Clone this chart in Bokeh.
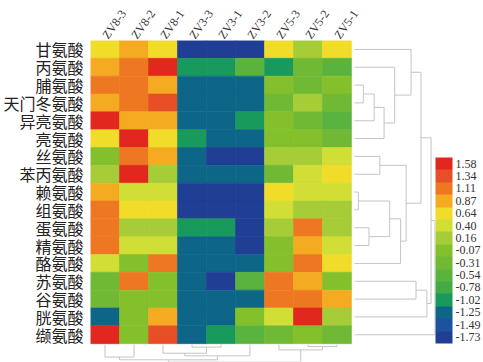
import math
from bokeh.plotting import figure
from bokeh.models import (ColumnDataSource, LinearAxis, FixedTicker, LinearColorMapper,
                          ColorBar, PrintfTickFormatter, Range1d, AllLabels)
from bokeh.transform import transform
from bokeh.embed import file_html
from bokeh.resources import INLINE

samples = ["ZV8-3", "ZV8-2", "ZV8-1", "ZV3-3", "ZV3-1", "ZV3-2", "ZV5-3", "ZV5-2", "ZV5-1"]
amino = ["甘氨酸", "丙氨酸", "脯氨酸", "天门冬氨酸", "异亮氨酸", "亮氨酸", "丝氨酸", "苯丙氨酸",
         "赖氨酸", "组氨酸", "蛋氨酸", "精氨酸", "酪氨酸", "苏氨酸", "谷氨酸", "胱氨酸", "缬氨酸"]

values = [
    [0.64, 0.87, 0.64, -1.73, -1.73, -1.73, 0.64, 0.16, 0.64],
    [0.87, 1.11, 1.58, -1.02, -1.02, -0.54, -1.02, -0.31, -0.54],
    [1.11, 1.11, 0.87, -1.25, -1.25, -1.25, -0.07, -0.31, -0.07],
    [0.87, 1.11, 1.34, -1.25, -1.25, -1.25, -0.31, 0.16, -0.31],
    [1.58, 0.87, 0.87, -1.25, -1.25, -1.02, -0.07, -0.31, -0.54],
    [0.64, 1.58, 0.64, -1.02, -1.25, -1.25, -0.07, -0.07, -0.31],
    [-0.07, 1.11, 0.87, -1.25, -1.73, -1.73, 0.16, 0.16, 0.40],
    [0.16, 1.58, 0.16, -1.25, -1.25, -1.25, -0.31, 0.40, 0.64],
    [0.87, 0.40, 0.40, -1.73, -1.73, -1.73, 0.64, 0.40, 0.40],
    [1.11, 0.64, 0.64, -1.73, -1.73, -1.73, 0.40, 0.16, 0.16],
    [1.11, 0.16, 0.16, -1.02, -1.02, -1.73, 0.16, 1.11, 0.16],
    [1.11, 0.40, 0.40, -1.25, -1.25, -1.73, -0.07, 0.87, 0.40],
    [0.40, -0.07, 1.11, -1.25, -1.25, -1.25, -0.07, 1.11, 0.64],
    [-0.31, 1.11, -0.07, -1.25, -1.73, -0.54, 1.11, 0.87, -0.07],
    [-0.31, -0.07, -0.07, -1.25, -1.25, -1.25, 1.11, 1.11, 0.87],
    [-1.25, -0.07, 0.87, -1.25, -1.25, -0.07, 0.40, 1.58, 0.16],
    [1.58, -0.07, 1.34, -1.25, -1.02, -0.54, -0.31, -0.07, -0.31],
]

legend_ticks = [1.58, 1.34, 1.11, 0.87, 0.64, 0.40, 0.16, -0.07, -0.31, -0.54, -0.78, -1.02, -1.25, -1.49, -1.73]
palette = ["#1f3e94", "#1d529c", "#0d6688", "#189a5c", "#43aa46", "#5bb33f", "#70b935", "#84c02b",
           "#a6cc37", "#d0de36", "#f1dc2a", "#f4ab22", "#ee7822", "#e84f26", "#e2271f"]

# dendrogram trees: [left, right, merge distance]
row_tree = [[[[0, [1, [[[2, 3, 9], 4, 20], 5, 30], 40.7], 57.3],
              [[6, 7, 25.7], [[[8, 9, 4], [10, 11, 14.7], 35.7], 12, 46.7], 52.3], 67.3],
             [[13, 14, 62.3], 15, 73.3], 77.5], 16, 81.5]
col_tree = [[[0, 1, 12.5], [[2, [3, 4, 2.5], 8.7], 5, 11.3], 15.3],
            [6, [7, 8, 2.0], 5.3], 17.3]

# ---------------------------------------------------------------
PX_X = 264 / 9   # px per column
PX_Y = 18.0      # px per row
LEFT, TOP, RIGHT, BOTTOM = 89, 37, 438, 361
W, H = 483, 362

xs, ys, vs = [], [], []
for r, row in enumerate(values):
    for c, v in enumerate(row):
        xs.append(c); ys.append(r); vs.append(v)
src = ColumnDataSource(dict(x=xs, y=ys, v=vs))

step = (legend_ticks[0] - legend_ticks[-1]) / (len(palette) - 1)
mapper = LinearColorMapper(palette=palette, low=legend_ticks[-1] - step / 2, high=legend_ticks[0] + step / 2)

x_end = -0.5 + (RIGHT - LEFT) / PX_X
y_end = -0.5 + (BOTTOM - TOP) / PX_Y

p = figure(width=W, height=H, output_backend="svg", toolbar_location=None,
           x_range=Range1d(-0.5, x_end), y_range=Range1d(y_end, -0.5),
           x_axis_location=None, y_axis_location=None,
           min_border_left=LEFT, min_border_top=TOP, min_border_bottom=H - BOTTOM,
           min_border_right=W - RIGHT)
p.outline_line_color = None
p.grid.visible = False
p.background_fill_color = "white"

p.rect(x="x", y="y", width=1, height=1, source=src,
       fill_color=transform("v", mapper), line_color=transform("v", mapper), line_width=0.6)

# row labels
yaxis = LinearAxis(ticker=FixedTicker(ticks=list(range(len(amino)))),
                   major_label_overrides={i: n for i, n in enumerate(amino)})
yaxis.axis_line_color = None
yaxis.major_tick_line_color = None
yaxis.minor_tick_line_color = None
yaxis.major_tick_out = 0
yaxis.major_label_standoff = 7
yaxis.major_label_text_font = "Noto Sans CJK SC"
yaxis.major_label_text_font_size = "16px"
yaxis.major_label_text_color = "#222222"
p.add_layout(yaxis, "left")

# column labels
xaxis = LinearAxis(ticker=FixedTicker(ticks=list(range(len(samples)))),
                   major_label_overrides={i: n for i, n in enumerate(samples)})
xaxis.axis_line_color = None
xaxis.major_tick_line_color = None
xaxis.minor_tick_line_color = None
xaxis.major_tick_out = 0
xaxis.major_label_standoff = 3
xaxis.major_label_orientation = math.radians(55)
xaxis.major_label_text_font = "Liberation Serif"
xaxis.major_label_text_font_size = "12px"
xaxis.major_label_text_color = "#333333"
p.add_layout(xaxis, "above")


def walk(node, pos_fn, segs):
    if isinstance(node, int):
        return pos_fn(node), 0.0
    left, right, h = node
    pl, hl = walk(left, pos_fn, segs)
    pr, hr = walk(right, pos_fn, segs)
    segs.append((pl, hl, pl, h))
    segs.append((pr, hr, pr, h))
    segs.append((pl, h, pr, h))
    return (pl + pr) / 2, h


# row dendrogram (right)
rsegs = []
walk(row_tree, lambda i: float(i), rsegs)
x_base = 8.5 + 3 / PX_X
p.segment(x0=[x_base + s[1] / PX_X for s in rsegs], y0=[s[0] for s in rsegs],
          x1=[x_base + s[3] / PX_X for s in rsegs], y1=[s[2] for s in rsegs],
          line_color="#c4c4c4", line_width=1)

# column dendrogram (bottom)
csegs = []
walk(col_tree, lambda i: float(i), csegs)
y_base = 16.5 + 1 / PX_Y
p.segment(x0=[s[0] for s in csegs], y0=[y_base + s[1] / PX_Y for s in csegs],
          x1=[s[2] for s in csegs], y1=[y_base + s[3] / PX_Y for s in csegs],
          line_color="#c4c4c4", line_width=1)

cb = ColorBar(color_mapper=mapper, ticker=FixedTicker(ticks=legend_ticks),
              formatter=PrintfTickFormatter(format="%.2f"),
              major_label_policy=AllLabels(),
              width=17, height=186, location=(0, 18), padding=0, margin=0,
              major_tick_line_color=None, minor_tick_line_color=None, bar_line_color=None,
              label_standoff=3, major_label_text_font="Liberation Serif",
              major_label_text_font_size="12px", major_label_text_color="#333333",
              background_fill_alpha=0, border_line_color=None)
p.add_layout(cb, "right")

open("out.html", "w").write(file_html(p, INLINE))
